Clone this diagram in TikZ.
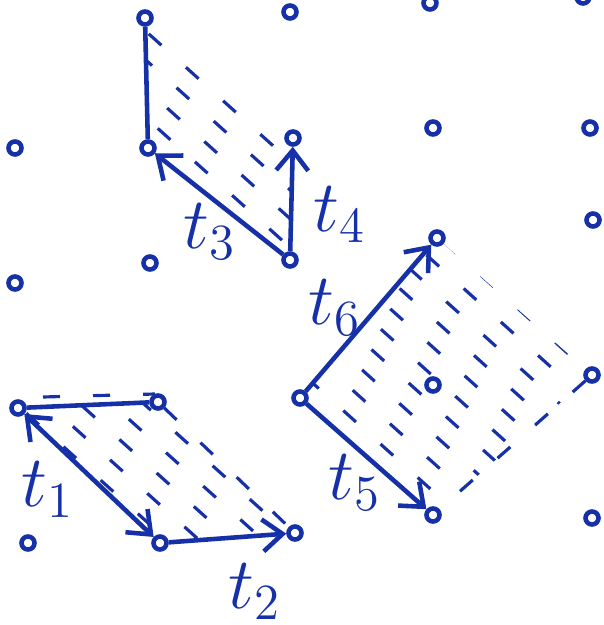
\documentclass[tikz,border=0pt]{standalone}
\usepackage{amsmath}
\usepackage{tikz}
\usetikzlibrary{calc,arrows.meta,backgrounds}
\definecolor{ink}{RGB}{22,48,168}
\tikzstyle{pt}=[draw=ink, fill=white, shape=circle, line width=1.3pt,
        inner sep=0pt, minimum size=1.3mm]
\tikzstyle{vec}=[->, line width=1.3pt, draw=ink]
\tikzstyle{edge}=[line width=1.3pt, draw=ink]
\tikzstyle{hatch}=[line width=0.9pt, draw=ink, dash pattern=on 1.7mm off 3.3mm]

\tikzstyle{lbl}=[text=ink, font=\huge]

\begin{document}
\begin{tikzpicture}[x=0.01cm, y=-0.01cm, >={Straight Barb[length=2mm,width=3.2mm]}]
        \useasboundingbox (0,0) rectangle (603,625);

        % lattice points
        \node[pt] (p12) at (145,18) {}; \node[pt] (p13) at (290,12) {};
        \node[pt] (p14) at (430,3) {}; \node[pt] (p15) at (583,-3) {};
        \node[pt] (p21) at (15,148) {}; \node[pt] (p22) at (148,148) {};
        \node[pt] (p23) at (293,138) {}; \node[pt] (p24) at (433,128) {};
        \node[pt] (p25) at (590,128) {};
        \node[pt] (p31) at (15,283) {}; \node[pt] (p32) at (150,263) {};
        \node[pt] (p33) at (290,260) {}; \node[pt] (p34) at (437,238) {};
        \node[pt] (p35) at (593,220) {};
        \node[pt] (p41) at (18,408) {}; \node[pt] (p42) at (158,402) {};
        \node[pt] (p43) at (300,398) {}; \node[pt] (p44) at (433,385) {};
        \node[pt] (p45) at (592,375) {};
        \node[pt] (p51) at (28,543) {}; \node[pt] (p52) at (160,543) {};
        \node[pt] (p53) at (295,533) {}; \node[pt] (p54) at (433,515) {};
        \node[pt] (p55) at (592,518) {};

        % shaded cells
        \begin{scope}[on background layer]
            \begin{scope}
                \clip (p12.center) -- (p22.center) -- (p33.center) -- (p23.center) -- cycle;
                \foreach \s [evaluate=\s as \ph using {mod(abs(\s)*0.53,5)}] in {-800,-768,...,500}
                    \draw[hatch, dash phase=\ph mm] (\s,-100) -- ++(800,720);
            \end{scope}
            \begin{scope}
                \clip (p41.center) -- (p42.center) -- (p53.center) -- (p52.center) -- cycle;
                \foreach \s [evaluate=\s as \ph using {mod(abs(\s)*0.53,5)}] in {-800,-768,...,500}
                    \draw[hatch, dash phase=\ph mm] (\s,-100) -- ++(800,720);
            \end{scope}
            \begin{scope}
                \clip (p43.center) -- (p34.center) -- (p45.center) -- (p54.center) -- cycle;
                \foreach \s [evaluate=\s as \ph using {mod(abs(\s)*0.53,5)}] in {-800,-768,...,500}
                    \draw[hatch, dash phase=\ph mm] (\s,-100) -- ++(800,720);
            \end{scope}
        \end{scope}

        \draw[edge] (p12) -- (p22);
        \draw[edge] (p41) -- (p42);
        \draw[hatch] ($(p41)+(25,-11)$) -- ($(p42)+(-3,-8)$);
        \draw[hatch] (p42) -- (p53);
        \draw[hatch] (p45) -- (p54);

        \draw[vec, <->] (p52) -- (p41);
        \draw[vec] (p52) -- (p53);
        \draw[vec] (p33) -- (p22);
        \draw[vec] (p33) -- (p23);
        \draw[vec] (p43) -- (p54);
        \draw[vec] (p43) -- (p34);

        \node[lbl] (t1) at (48,490) {$t_1$};
        \node[lbl] (t2) at (255,592) {$t_2$};
        \node[lbl] (t3) at (210,232) {$t_3$};
        \node[lbl] (t4) at (340,215) {$t_4$};
        \node[lbl] (t5) at (355,483) {$t_5$};
        \node[lbl] (t6) at (335,308) {$t_6$};

    \end{tikzpicture}
\end{document}
